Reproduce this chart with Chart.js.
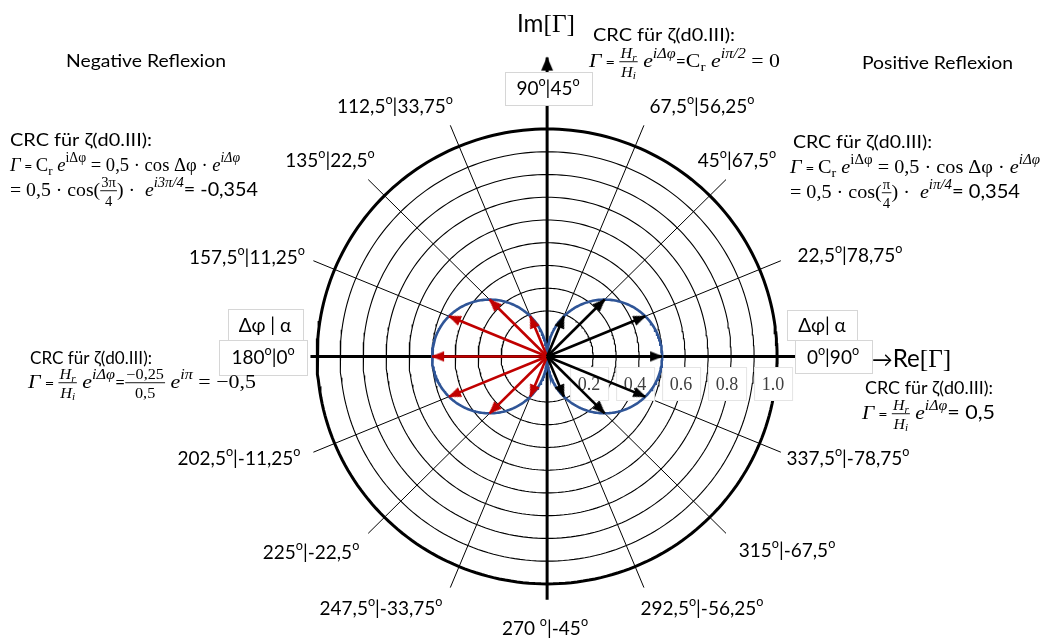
<!DOCTYPE html>
<html>
<head>
<meta charset="utf-8">
<script src="https://cdn.jsdelivr.net/npm/chart.js@4/dist/chart.umd.min.js"></script>
<style>
  html, body { margin: 0; padding: 0; background: #fff; }
  #wrap { width: 1050px; height: 641px; position: relative; }
</style>
</head>
<body>
<div id="wrap"><canvas id="crc"></canvas></div>
<script>
// ---- data -------------------------------------------------------------
// reflection vectors Γ: phase Δφ in degrees and magnitude |Γ|
const positiveAngles     = [0, 22.5, 45, 67.5, -22.5, -45, -67.5];
const positiveMagnitudes = [0.5, 0.462, 0.354, 0.191, 0.462, 0.354, 0.191];
const negativeAngles     = [112.5, 135, 157.5, 180, 202.5, 225, 247.5];
const negativeMagnitudes = [0.191, 0.354, 0.462, 0.5, 0.462, 0.354, 0.191];
// CRC: Γ = 0.5 · cos Δφ · e^{iΔφ}  → circle of diameter 0.5 on each side
const crcAmplitude = 0.5;
const crcSides = [1, -1];
// polar grid
const ringValues  = [0.2, 0.3, 0.4, 0.5, 0.6, 0.7, 0.8, 0.9];
const outerRing   = 1.0;
const spokeAngles = [22.5, 45, 67.5, 112.5, 135, 157.5, 202.5, 225, 247.5, 292.5, 315, 337.5];
const spokeRange  = [0.2, 1.1];
const axisX = [-1.029, 1.12];
const axisY = [-1.07, 1.314];
// radius tick labels along Re[Γ]
const ringTickValues = [0.2, 0.4, 0.6, 0.8, 1.0];
const ringTickLabels = ['0.2', '0.4', '0.6', '0.8', '1.0'];
// Δφ | α labels of the spokes
const spokeLabelTexts  = ['112,5°|33,75°', '67,5°|56,25°', '135°|22,5°', '45°|67,5°', '157,5°|11,25°',
                          '22,5°|78,75°', '202,5°|-11,25°', '337,5°|-78,75°', '225°|-22,5°', '315°|-67,5°',
                          '247,5°|-33,75°', '292,5°|-56,25°', '270 °|-45°'];

// ---- frame ------------------------------------------------------------
const W = 1050, H = 641;
const frame = { cx: 547.5, cy: 357.5, unit: 234 };
const xMin = -frame.cx / frame.unit, xMax = (W - frame.cx) / frame.unit;
const yMax = frame.cy / frame.unit,  yMin = -(H - frame.cy) / frame.unit;

const SANS  = 'Lato, "Open Sans", sans-serif';
const SERIF = '"Liberation Serif", "DejaVu Serif", serif';
const RED = '#c00000', BLUE = '#2f5597', BOX = '#d6d6d6';

// label placement (pixel centres)
const spokeLabelPos = [[395,106],[702,106],[330,160],[737,160],[247,257],[850,255],[239,458],
                       [848,458],[311,552],[787,550],[381,608],[702,608],[545,628]];

// ---- helpers ----------------------------------------------------------
const rad = d => d * Math.PI / 180;
const polar = (r, d) => ({ x: r * Math.cos(rad(d)), y: r * Math.sin(rad(d)) });
function circlePts(cx, r, n = 240) {
  const p = [];
  for (let i = 0; i <= n; i++) { const a = i / n * 2 * Math.PI; p.push({ x: cx + r * Math.cos(a), y: r * Math.sin(a) }); }
  return p;
}
function arrowHead(color, len, half) {
  const s = 2 * len + 4, c = document.createElement('canvas');
  c.width = s; c.height = s;
  const g = c.getContext('2d'), m = s / 2;
  g.fillStyle = color;
  g.beginPath(); g.moveTo(m, m - 1); g.lineTo(m - half, m + len); g.lineTo(m + half, m + len); g.closePath(); g.fill();
  return c;
}
const headBlack = arrowHead('#000', 12, 5.2);
const headRed   = arrowHead(RED, 12, 5.2);
const headAxis  = arrowHead('#000', 13, 6);

function line(data, color, width, order, extra = {}) {
  return Object.assign({ data, showLine: true, borderColor: color, borderWidth: width, pointRadius: 0,
    fill: false, tension: 0, order, borderCapStyle: 'butt' }, extra);
}
function arrow(angle, mag, color, head) {
  return line([{ x: 0, y: 0 }, polar(mag, angle)], color, 2.6, 1, {
    pointRadius: [0, 6], pointStyle: head, pointRotation: [0, 90 - angle],
  });
}

const datasets = [];
ringValues.forEach(r => datasets.push(line(circlePts(0, r), '#000', 1.1, 9)));
spokeAngles.forEach(a => datasets.push(line([polar(spokeRange[0], a), polar(spokeRange[1], a)], '#000', 1, 9)));
datasets.push(line(circlePts(0, outerRing), '#000', 3, 8));
datasets.push(line([{ x: 0, y: axisY[0] }, { x: 0, y: axisY[1] }], '#000', 3, 7,
  { pointRadius: [0, 6], pointStyle: headAxis, pointRotation: [0, 0] }));
const hAxisIndex = datasets.length;
datasets.push(line([{ x: axisX[0], y: 0 }, { x: axisX[1], y: 0 }], '#000', 3, 7));
crcSides.forEach(s => datasets.push(line(circlePts(s * crcAmplitude / 2, crcAmplitude / 2), BLUE, 2.6, 5)));
positiveAngles.forEach((a, i) => datasets.push(arrow(a, positiveMagnitudes[i], '#000', headBlack)));
negativeAngles.forEach((a, i) => datasets.push(arrow(a, negativeMagnitudes[i], RED, headRed)));

// ---- rich text (formulas) ------------------------------------------
const S = (t, k = 1) => ['s', t, k], R = (t, k = 1) => ['r', t, k], I = (t, k = 1) => ['i', t, k];
const SUP = (...a) => ['^', a], SUB = (...a) => ['_', a], FR = (n, d) => ['/', n, d];
function fontFor(kind, size) {
  if (kind === 's') return `${size}px ${SANS}`;
  if (kind === 'i') return `italic ${size}px ${SERIF}`;
  return `${size}px ${SERIF}`;
}
function run(ctx, items, size, draw, x, y) {
  let w = 0;
  for (const it of items) {
    const k = it[0];
    if (k === 's' || k === 'r' || k === 'i') {
      const fs = size * (it[2] || 1);
      ctx.font = fontFor(k, fs);
      if (draw) ctx.fillText(it[1], x + w, y);
      w += ctx.measureText(it[1]).width;
    } else if (k === '^') {
      w += run(ctx, it[1], size * 0.74, draw, x + w, y - size * 0.45);
    } else if (k === '_') {
      w += run(ctx, it[1], size * 0.7, draw, x + w, y + size * 0.2);
    } else if (k === '/') {
      const fs = size * 0.74;
      const wn = run(ctx, it[1], fs, false, 0, 0), wd = run(ctx, it[2], fs, false, 0, 0);
      const fw = Math.max(wn, wd) + 2;
      if (draw) {
        run(ctx, it[1], fs, true, x + w + (fw - wn) / 2, y - size * 0.45);
        run(ctx, it[2], fs, true, x + w + (fw - wd) / 2, y + size * 0.5);
        ctx.fillRect(x + w, y - size * 0.3, fw, 0.9);
      }
      w += fw;
    }
  }
  return w;
}
function drawRich(ctx, items, x, y, size, opt = {}) {
  ctx.save();
  const nat = run(ctx, items, size, false, 0, 0);
  let sx = opt.width ? Math.max(0.8, Math.min(1.25, opt.width / nat)) : 1;
  let x0 = opt.align === 'center' ? x - nat * sx / 2 : x;
  ctx.translate(x0, y); ctx.scale(sx, 1);
  ctx.fillStyle = opt.color || '#000';
  ctx.textAlign = 'left'; ctx.textBaseline = 'alphabetic';
  run(ctx, items, size, true, 0, 0);
  ctx.restore();
}
// "112,5°|33,75°" → degree marks as raised small o
function degItems(str) {
  const parts = str.split('°'), out = [];
  parts.forEach((p, i) => { if (p) out.push(S(p)); if (i < parts.length - 1) out.push(['^', [S('o', 0.9)]]); });
  return out;
}

const crcTitle = [S('CRC für ζ(d0.III):')];
const HrHi = FR([I('H'), SUB(I('r'))], [I('H'), SUB(I('i'))]);
const fTop  = [I('Γ'), S(' = ', 0.75), HrHi, R(' '), I('e'), SUP(I('iΔφ')), S('=', 0.8), R('C'), SUB(R('r')), R(' '), I('e'), SUP(I('iπ/2')), R(' = 0')];
const fCos  = [I('Γ'), S(' = ', 0.75), R('C'), SUB(R('r')), R(' '), I('e'), SUP(R('iΔφ')), R(' = 0,5 · cos Δφ · '), I('e'), SUP(I('iΔφ'))];
const fNeg3 = [R('= 0,5 · cos('), FR([R('3π')], [R('4')]), R(') ·  '), I('e'), SUP(I('i3π/4')), S('= -0,354')];
const fPos3 = [R('= 0,5 · cos('), FR([R('π')], [R('4')]), R(') ·  '), I('e'), SUP(I('iπ/4')), S('= 0,354')];
const fNeg  = [I('Γ'), S(' = ', 0.75), HrHi, R(' '), I('e'), SUP(I('iΔφ')), S('=', 0.8), FR([R('−0,25')], [R('0,5')]), R(' '), I('e'), SUP(I('iπ')), R(' = −0,5')];
const fPos  = [I('Γ'), S(' = ', 0.75), HrHi, R(' '), I('e'), SUP(I('iΔφ')), S('= 0,5')];

// blocks: items, x, baseline, font size, target width
const textBlocks = [
  [[S('Negative Reflexion')], 66, 67, 17.5, 160],
  [[S('Positive Reflexion')], 862, 69, 17.5, 151],
  [crcTitle, 593, 41, 17, 142], [fTop, 589, 67, 19, 191],
  [crcTitle, 10, 146, 17, 142], [fCos, 10, 171, 19, 230], [fNeg3, 10, 196, 19, 248],
  [crcTitle, 793, 148, 17, 139], [fCos, 790, 173, 19, 250], [fPos3, 790, 198, 19, 230],
  [crcTitle, 30, 364, 17, 122], [fNeg, 28, 388, 19, 228],
  [crcTitle, 865, 394, 17, 128], [fPos, 862, 419, 19, 133],
];
// framed labels: text, centre x, centre y, box [x0, y0, x1, y1]
const boxLabels = [
  ['90°|45°', 548, 88, [505, 72, 592, 105]],
  ['Δφ | α', 265, 325, [228, 309, 303, 340]],
  ['180°|0°', 263, 357, [219, 340, 307, 375]],
  ['Δφ| α', 822, 325, [787, 310, 857, 340]],
  ['0°|90°', 833, 357, [795, 340, 872, 373]],
];

const textPlugin = {
  id: 'polarText',
  // radius tick labels sit on the grid but under the CRC circles and vectors
  afterDatasetDraw(chart, args) {
    if (args.index !== hAxisIndex) return;
    const ctx = chart.ctx, xs = chart.scales.x;
    ctx.save();
    ringTickValues.forEach((v, i) => {
      const px = xs.getPixelForValue(v) - 4;
      ctx.fillStyle = '#fff'; ctx.strokeStyle = '#e4e4e4'; ctx.lineWidth = 1;
      ctx.fillRect(px - 19, 367, 38, 33); ctx.strokeRect(px - 19 + 0.5, 367.5, 38, 33);
      ctx.font = `18px ${SERIF}`; ctx.fillStyle = '#404040';
      ctx.textAlign = 'center'; ctx.textBaseline = 'alphabetic';
      ctx.fillText(ringTickLabels[i], px, 390);
    });
    ctx.restore();
  },
  afterDatasetsDraw(chart) {
    const ctx = chart.ctx;
    ctx.save();
    // framed axis labels
    boxLabels.forEach(([t, cx, cy, b]) => {
      ctx.fillStyle = '#fff'; ctx.fillRect(b[0], b[1], b[2] - b[0], b[3] - b[1]);
      ctx.strokeStyle = BOX; ctx.lineWidth = 1;
      ctx.strokeRect(b[0] + 0.5, b[1] + 0.5, b[2] - b[0], b[3] - b[1]);
      drawRich(ctx, degItems(t), cx, cy + 7, 19, { align: 'center' });
    });
    // spoke labels
    spokeLabelTexts.forEach((t, i) => {
      const [cx, cy] = spokeLabelPos[i];
      drawRich(ctx, degItems(t), cx, cy + 7, 19, { align: 'center' });
    });
    // axis titles
    drawRich(ctx, [S('Im', 1.05), R('[Γ]', 1.1)], 546, 32, 23, { align: 'center' });
    drawRich(ctx, [S('→', 0.9), S('Re', 1.05), R('[Γ]', 1.1)], 872, 367, 23);
    // formula blocks
    textBlocks.forEach(([items, x, y, size, w]) => drawRich(ctx, items, x, y, size, { width: w }));
    ctx.restore();
  }
};

new Chart(document.getElementById('crc'), {
  type: 'scatter',
  data: { datasets },
  options: {
    responsive: true, maintainAspectRatio: false, animation: false, events: [],
    layout: { padding: 0 },
    plugins: { legend: { display: false }, tooltip: { enabled: false } },
    scales: {
      x: { type: 'linear', min: xMin, max: xMax, display: false },
      y: { type: 'linear', min: yMin, max: yMax, display: false },
    },
  },
  plugins: [textPlugin],
});
</script>
</body>
</html>
